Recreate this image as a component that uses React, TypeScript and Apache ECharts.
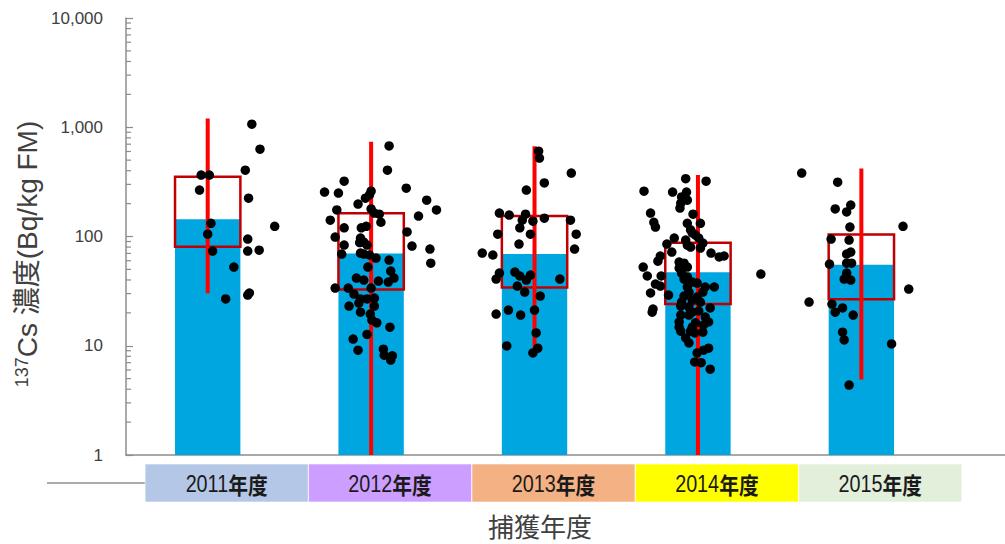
import { useEffect, useRef } from "react";
import * as echarts from "echarts";

// Fiscal years (category positions 1..5 on the x value axis)
const years = ["2011", "2012", "2013", "2014", "2015"];
const yearSuffix = "年度";
const bandColors = ["#B4C7E7", "#CC9EFF", "#F4B183", "#FFFF00", "#E2EFDA"];

// Summary statistics per year (Bq/kg FM)
const meanValues = [144, 70, 69, 47, 55];
const boxLow = [80.5, 32.8, 34.2, 24.1, 26.7];
const boxHigh = [352, 163, 154, 87.5, 104.5];
const rangeMin = [30.2, 1, 9.1, 1, 4.9];
const rangeMax = [1202, 735, 671, 365, 420];

// Minor tick values on the log axis
const minorTickValues = [
  2, 3, 4, 5, 6, 7, 8, 9,
  20, 30, 40, 50, 60, 70, 80, 90,
  200, 300, 400, 500, 600, 700, 800, 900,
  2000, 3000, 4000, 5000, 6000, 7000, 8000, 9000,
];

// Individual samples: [horizontal jitter within the year slot, concentration]
const dots2011: [number, number][] = [
  [0.27, 1067], [0.32, 630], [0.23, 405], [-0.04, 365], [0.01, 365], [-0.05, 266],
  [0.25, 224], [0.41, 124], [0.02, 132], [0, 105], [0.245, 94.7], [0.03, 73.6],
  [0.245, 73.6], [0.315, 75], [0.16, 52.5], [0.11, 26.8], [0.245, 29.1], [0.255, 30.4],
];
const dots2012: [number, number][] = [
  [0.11, 675], [0.1, 405], [-0.165, 321], [-0.285, 255], [-0.2, 250], [0.215, 277],
  [0.34, 215], [0.4, 175], [0.0, 260], [-0.01, 240], [-0.035, 224], [-0.08, 198],
  [-0.21, 175], [0.0, 179], [0.02, 164], [0.05, 160], [0.06, 135], [0.29, 154],
  [-0.25, 141], [0.22, 110], [-0.165, 120], [-0.06, 120], [-0.03, 124], [-0.22, 98.8],
  [-0.165, 83.5], [-0.065, 96.7], [-0.045, 88.9], [-0.07, 88], [-0.025, 83.5], [0.25, 81.8],
  [0.36, 76.8], [-0.18, 69.1], [-0.065, 70.6], [-0.045, 69.1], [-0.01, 67.7], [0.03, 63.5],
  [0.11, 60.8], [0.365, 57.0], [-0.02, 52.5], [0.12, 48.3], [-0.09, 41.6], [-0.045, 39.9],
  [0.045, 39.1], [0.105, 38.3], [0.14, 41.6], [-0.22, 33.7], [-0.14, 33.7], [0.0, 33.7],
  [-0.105, 29.7], [-0.065, 26.8], [-0.075, 24.6], [-0.025, 26.8], [0.02, 27.3], [0.02, 23.1],
  [-0.135, 23.1], [-0.065, 20.3], [-0.005, 19.5], [0.005, 17.2], [0.035, 16.2], [0.115, 14.8],
  [-0.025, 12.7], [-0.11, 11.5], [-0.08, 9.1], [0.075, 9.3], [0.08, 8.2], [0.13, 8.1],
  [0.12, 7.4],
];
const dots2013: [number, number][] = [
  [0.025, 604], [0.03, 522], [0.225, 381], [0.06, 309], [-0.05, 266], [-0.215, 164],
  [-0.155, 157], [-0.055, 160], [-0.075, 141], [-0.01, 138], [0.06, 147], [0.22, 141],
  [-0.09, 120], [-0.225, 105], [-0.025, 105], [0.255, 105], [-0.095, 85.3], [0.245, 76.8],
  [-0.32, 70.6], [-0.255, 67.7], [-0.215, 46.3], [-0.235, 40.8], [-0.12, 47.3], [-0.09, 43.5],
  [-0.05, 39.9], [-0.025, 44.4], [-0.105, 35.2], [0.155, 40.8], [-0.06, 31.0], [0.035, 28.5],
  [-0.16, 21.2], [-0.235, 19.5], [-0.085, 19.1], [0.0, 21.2], [0.01, 13.1], [-0.17, 9.95],
  [0.02, 9.5], [-0.01, 8.6],
];
const dots2014: [number, number][] = [
  [-0.075, 338], [0.05, 321], [-0.33, 260], [-0.155, 255], [-0.07, 255], [-0.1, 230],
  [-0.065, 215], [-0.105, 202], [-0.11, 182], [-0.29, 164], [-0.03, 160], [-0.27, 135],
  [-0.26, 122], [0.015, 132], [-0.065, 132], [-0.045, 115], [-0.035, 108], [-0.015, 103],
  [-0.145, 96.7], [-0.075, 92.7], [0.005, 96.7], [-0.19, 85.3], [-0.065, 83.5], [0.03, 87.1],
  [-0.045, 80.1], [-0.16, 72.1], [0.015, 78.4], [0.08, 70.6], [0.13, 65.0], [0.16, 66.3],
  [-0.23, 66.3], [-0.245, 59.5], [-0.335, 52.5], [-0.115, 58.3], [-0.085, 57.0], [-0.065, 52.5],
  [-0.115, 51.4], [-0.31, 43.5], [-0.225, 43.5], [-0.1, 46.3], [-0.065, 42.6], [-0.085, 40.8],
  [-0.26, 36.7], [-0.23, 35.2], [-0.035, 38.3], [-0.005, 37.5], [0.045, 34.5], [0.1, 34.5],
  [-0.065, 34.5], [-0.29, 30.4], [-0.18, 29.1], [-0.055, 31.0], [0.03, 31.0], [-0.085, 28.5],
  [-0.005, 27.9], [-0.1, 25.1], [-0.035, 26.2], [0.015, 25.1], [-0.105, 23.1], [-0.055, 22.6],
  [0.075, 22.2], [-0.275, 21.7], [-0.28, 20.3], [-0.035, 20.3], [0.005, 20.8], [-0.105, 19.1],
  [0.045, 18.3], [-0.055, 19.1], [-0.115, 16.5], [0.065, 16.5], [-0.015, 16.2], [0.035, 15.5],
  [-0.115, 14.8], [-0.035, 14.8], [-0.105, 13.6], [-0.045, 13.6], [0.03, 13.3], [-0.02, 13.1],
  [-0.075, 11.8], [-0.055, 10.6], [0.065, 9.5], [0.035, 9.1], [-0.005, 8.6], [-0.02, 7.1],
  [0.02, 7.0], [0.075, 6.1], [0.385, 45.3],
];
const dots2015: [number, number][] = [
  [-0.365, 381], [-0.145, 314], [-0.065, 194], [-0.16, 179], [-0.09, 168], [-0.07, 122],
  [0.255, 124], [-0.185, 94.7], [-0.075, 92.7], [-0.065, 72.1], [-0.09, 69.1], [-0.195, 55.9],
  [-0.09, 57.0], [-0.06, 57.0], [-0.09, 46.3], [-0.105, 40.8], [-0.065, 39.9], [0.29, 33.0],
  [-0.32, 25.1], [-0.18, 24.1], [-0.16, 20.3], [-0.115, 22.2], [-0.05, 19.1], [-0.115, 13.3],
  [-0.105, 11.3], [0.185, 10.4], [-0.075, 4.37],
];
const dotsByYear = [dots2011, dots2012, dots2013, dots2014, dots2015];

const SANS = "'Liberation Sans', Arial, 'Noto Sans CJK JP', sans-serif";
const CJK = "'Noto Sans CJK JP', 'Liberation Sans', sans-serif";

export default function App() {
  const ref = useRef<HTMLDivElement>(null);

  useEffect(() => {
    if (!ref.current) return;
    const chart = echarts.init(ref.current, undefined, { renderer: "svg" });

    const summaryData = years.map((_, i) => [
      i + 1, meanValues[i], boxLow[i], boxHigh[i], rangeMin[i], rangeMax[i],
    ]);
    const scatterData: number[][] = [];
    dotsByYear.forEach((dots, i) => {
      dots.forEach(([dx, v]) => scatterData.push([i + 1 + dx, v]));
    });

    const option: any = {
      animation: false,
      grid: { left: 126, right: 0, top: 18, bottom: 89 },
      xAxis: {
        type: "value",
        min: 0.5,
        max: 5.879,
        axisLine: { show: true, onZero: false, lineStyle: { color: "#8c8c8c", width: 1.5 } },
        axisTick: { show: false },
        axisLabel: { show: false },
        splitLine: { show: false },
      },
      yAxis: {
        type: "log",
        logBase: 10,
        min: 1,
        max: 10000,
        axisLine: { show: true, lineStyle: { color: "#8c8c8c", width: 1.5 } },
        axisTick: { show: true, inside: true, length: 7, lineStyle: { color: "#8c8c8c", width: 1.2 } },
        axisLabel: {
          margin: 23,
          fontSize: 17,
          color: "#404040",
          fontFamily: SANS,
          formatter: (v: number) => Math.round(v).toLocaleString("en-US"),
        },
        splitLine: { show: false },
      },
      graphic: [
        {
          type: "line",
          z: 0,
          shape: { x1: 47, y1: 483, x2: 962, y2: 483 },
          style: { stroke: "#595959", lineWidth: 1 },
        },
        {
          type: "text",
          x: 27,
          y: 254,
          rotation: Math.PI / 2,
          style: {
            text: "{sup|137}{main|Cs 濃度(Bq/kg FM)}",
            align: "center",
            verticalAlign: "middle",
            fill: "#404040",
            rich: {
              sup: { fontSize: 18, fontFamily: SANS, fill: "#404040", verticalAlign: "top" },
              main: { fontSize: 28, fontFamily: SANS, fill: "#404040" },
            },
          },
        },
        {
          type: "text",
          x: 540,
          y: 525,
          style: {
            text: "捕獲年度",
            align: "center",
            verticalAlign: "middle",
            fill: "#404040",
            font: `26px ${CJK}`,
          },
        },
      ],
      series: [
        {
          // colored year bands with labels beneath the plot
          type: "custom",
          z: 1,
          clip: false,
          data: years.map((_, i) => [i + 1, 1]),
          encode: { x: 0, y: 1 },
          renderItem: (params: any, api: any) => {
            const x = api.value(0);
            const i = params.dataIndex;
            const [x0, yb] = api.coord([x - 0.383, 1]);
            const [x1] = api.coord([x + 0.615, 1]);
            const top = yb + 9;
            const h = 38;
            return {
              type: "group",
              children: [
                {
                  type: "rect",
                  shape: { x: x0, y: top, width: x1 - x0, height: h },
                  style: { fill: bandColors[i], stroke: "rgba(255,255,255,0.6)", lineWidth: 1 },
                },
                {
                  type: "text",
                  x: (x0 + x1) / 2,
                  y: top + h / 2 + 1,
                  scaleX: 0.86,
                  style: {
                    text: `{n|${years[i]}}{k|${yearSuffix}}`,
                    align: "center",
                    verticalAlign: "middle",
                    rich: {
                      n: { fontSize: 23, fontFamily: SANS, fill: "#1a1a1a" },
                      k: { fontSize: 23, fontFamily: CJK, fontWeight: "bold", fill: "#1a1a1a" },
                    },
                  },
                },
              ],
            };
          },
        },
        {
          // minor ticks at 2..9 of each decade
          type: "custom",
          z: 3,
          clip: false,
          data: minorTickValues.map((v) => [0.5, v]),
          encode: { x: 0, y: 1 },
          renderItem: (_params: any, api: any) => {
            const [ax, y] = api.coord([0.5, api.value(1)]);
            return {
              type: "line",
              shape: { x1: ax, y1: y, x2: ax + 5, y2: y },
              style: { stroke: "#8c8c8c", lineWidth: 1.2 },
            };
          },
        },
        {
          // mean bar, interquartile box and full range line
          type: "custom",
          z: 2,
          data: summaryData,
          encode: { x: 0, y: 1 },
          renderItem: (_params: any, api: any) => {
            const x = api.value(0);
            const [cx, yMean] = api.coord([x, api.value(1)]);
            const [, yBase] = api.coord([x, 1]);
            const [xl] = api.coord([x - 0.2, 1]);
            const [xr] = api.coord([x + 0.2, 1]);
            const [, yLow] = api.coord([x, api.value(2)]);
            const [, yHigh] = api.coord([x, api.value(3)]);
            const [, yMin] = api.coord([x, api.value(4)]);
            const [, yMax] = api.coord([x, api.value(5)]);
            return {
              type: "group",
              children: [
                {
                  type: "rect",
                  shape: { x: xl, y: yMean, width: xr - xl, height: yBase - yMean },
                  style: { fill: "#00A6E0" },
                },
                {
                  type: "rect",
                  shape: { x: xl, y: yHigh, width: xr - xl, height: yLow - yHigh },
                  style: { fill: "none", stroke: "#C00000", lineWidth: 2.5 },
                },
                {
                  type: "line",
                  shape: { x1: cx, y1: yMax, x2: cx, y2: yMin },
                  style: { stroke: "#FF0000", lineWidth: 4 },
                },
              ],
            };
          },
        },
        {
          type: "scatter",
          z: 4,
          symbol: "circle",
          symbolSize: 9.5,
          itemStyle: { color: "#000000", opacity: 1 },
          emphasis: { disabled: true },
          data: scatterData,
        },
      ],
    };

    chart.setOption(option);
    return () => chart.dispose();
  }, []);

  return (
    <div
      ref={ref}
      style={{ position: "fixed", left: 0, top: 0, width: 1005, height: 544, background: "#fff" }}
    />
  );
}
